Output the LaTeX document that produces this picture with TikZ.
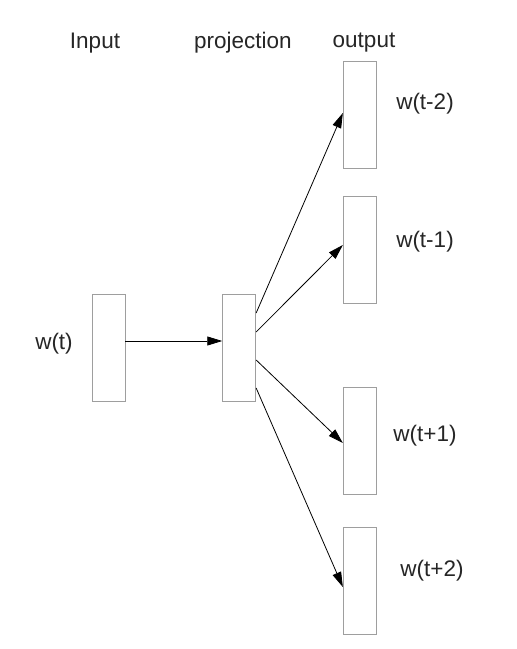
\documentclass[tikz,border=0pt]{standalone}
\usepackage{fontspec}
\setmainfont{Liberation Sans}
\usetikzlibrary{arrows.meta}
\begin{document}
\begin{tikzpicture}[x=1pt,y=-1pt,
  box/.style={draw=black!38,line width=0.9pt,fill=white,minimum width=33pt,minimum height=107pt,inner sep=0pt},
  lbl/.style={text=black!85,font=\fontsize{22.5}{26}\selectfont,inner sep=0pt},
  conn/.style={draw=black,line width=0.8pt,-{Triangle[length=15pt,width=9pt]}}]
\useasboundingbox[fill=white] (0,0) rectangle (517,649);
\node[box] (in) at (108.5,347.5) {};
\node[box] (proj) at (239.2,347.5) {};
\node[box] (o1) at (359.8,115) {};
\node[box] (o2) at (359.8,249.5) {};
\node[box] (o3) at (359.8,441) {};
\node[box] (o4) at (359.8,581) {};
\node[lbl] (tin) at (95,43) {Input};
\node[lbl] (tproj) at (243,43) {projection};
\node[lbl] (tout) at (364,43) {output};
\node[lbl] (tw) at (54,344) {w(t)};
\node[lbl] (t1) at (425,104) {w(t-2)};
\node[lbl] (t2) at (425,242) {w(t-1)};
\node[lbl] (t3) at (425,436) {w(t+1)};
\node[lbl] (t4) at (432,571) {w(t+2)};
\coordinate (a0) at ([yshift=6.5pt]in.east);
\coordinate (b0) at ([yshift=6.5pt]proj.west);
\coordinate (p1) at ([yshift=34.5pt]proj.east);
\coordinate (p2) at ([yshift=15.5pt]proj.east);
\coordinate (p3) at ([yshift=-12.5pt]proj.east);
\coordinate (p4) at ([yshift=-40.5pt]proj.east);
\coordinate (e1) at ([yshift=2pt]o1.west);
\coordinate (e2) at ([yshift=4.5pt]o2.west);
\coordinate (e3) at ([yshift=-2pt]o3.west);
\coordinate (e4) at ([yshift=-6pt]o4.west);
\draw[conn] (a0) -- (b0);
\draw[conn] (p1) -- (e1);
\draw[conn] (p2) -- (e2);
\draw[conn] (p3) -- (e3);
\draw[conn] (p4) -- (e4);
\end{tikzpicture}
\end{document}
